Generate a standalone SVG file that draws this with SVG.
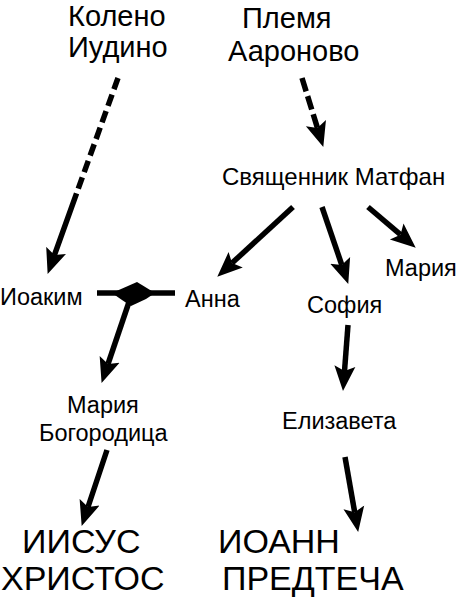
<svg xmlns="http://www.w3.org/2000/svg" width="457" height="600" viewBox="0 0 457 600">
<style>
text{font-family:"Liberation Sans",Arial,sans-serif;fill:#000}
.big{font-size:29px}
.sm{font-size:23.5px}
.xl{font-size:34px}
.ln{stroke:#000;stroke-width:5.5;fill:none}
</style>
<defs>
<marker id="ah" markerUnits="userSpaceOnUse" markerWidth="26" markerHeight="24" viewBox="0 -12 26 24" refX="5" refY="0" orient="auto">
<path d="M0,-10.5 L25,0 L0,10.5 L5,0 Z" fill="#000"/>
</marker>
</defs>
<rect width="457" height="600" fill="#fff"/>
<g id="connectors">
<path class="ln" d="M118,78 L54.4,255.1" stroke-dasharray="12 5.6 12 5.6 12 5.6 12 5.6 12 5.6 12 5.6 12 5 300" marker-end="url(#ah)"/>
<path class="ln" d="M302,78 L317.4,127.9" stroke-dasharray="14 5 14 5 300" marker-end="url(#ah)"/>
<path class="ln" d="M293,207 L232,263.1" marker-end="url(#ah)"/>
<path class="ln" d="M322,207 L341.8,265" marker-end="url(#ah)"/>
<path class="ln" d="M368,207 L400.5,234.7" marker-end="url(#ah)"/>
<path class="ln" d="M97,293 L175,293"/>
<polygon points="112,293 137,282 155,293 146,299 131,306 122,300" fill="#000"/>
<path class="ln" d="M129,302 L108,364" marker-end="url(#ah)"/>
<path class="ln" d="M348,325 L344.5,371.1" marker-end="url(#ah)"/>
<path class="ln" d="M107,450 L88,507" marker-end="url(#ah)"/>
<path class="ln" d="M345,457 L354.7,512.3" marker-end="url(#ah)"/>
</g>
<g id="koleno"><text class="big" x="68" y="26">Колено</text><text class="big" x="68" y="57">Иудино</text></g>
<g id="plemya"><text class="big" x="242" y="28">Племя</text><text class="big" x="228" y="61">Аароново</text></g>
<g id="matfan"><text class="sm" x="222" y="185" style="font-size:24px">Священник Матфан</text></g>
<g id="ioakim"><text class="sm" x="0" y="305">Иоаким</text></g>
<g id="anna"><text class="sm" x="185" y="307">Анна</text></g>
<g id="sofia"><text class="sm" x="307" y="313">София</text></g>
<g id="maria"><text class="sm" x="385" y="276">Мария</text></g>
<g id="bogorodica"><text class="sm" x="67" y="413">Мария</text><text class="sm" x="39" y="441">Богородица</text></g>
<g id="elizaveta"><text class="sm" x="282" y="429">Елизавета</text></g>
<g id="iisus"><text class="xl" x="22" y="553">ИИСУС</text><text class="xl" x="1" y="590">ХРИСТОС</text></g>
<g id="ioann"><text class="xl" x="218" y="553">ИОАНН</text><text class="xl" x="222" y="590">ПРЕДТЕЧА</text></g>
</svg>
